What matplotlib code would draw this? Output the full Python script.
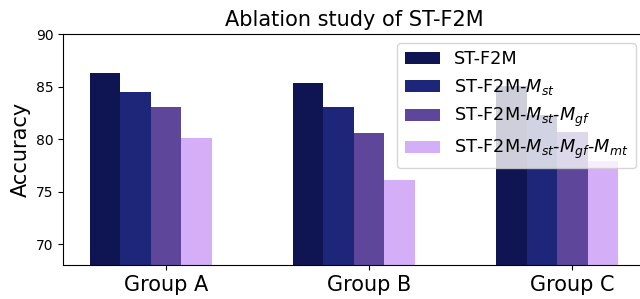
import matplotlib
matplotlib.use("Agg")
import matplotlib.pyplot as plt
import numpy as np

groups = ["Group A", "Group B", "Group C"]
series_names = ["ST-F2M", "ST-F2M-$M_{st}$", "ST-F2M-$M_{st}$-$M_{gf}$", "ST-F2M-$M_{st}$-$M_{gf}$-$M_{mt}$"]
st_f2m = [86.3, 85.3, 85.1]
st_f2m_mst = [84.5, 83.1, 82.3]
st_f2m_mst_mgf = [83.1, 80.6, 80.7]
st_f2m_mst_mgf_mmt = [80.1, 76.1, 77.9]
colors = ["#0f1452", "#1d2679", "#5e479b", "#d4aff8"]

series = [st_f2m, st_f2m_mst, st_f2m_mst_mgf, st_f2m_mst_mgf_mmt]

fig = plt.figure(figsize=(6.4, 2.99), dpi=100)
ax = fig.add_axes([0.099, 0.1137, 0.908, 0.772])
x = np.arange(len(groups))
w = 0.15
for i, (vals, name, c) in enumerate(zip(series, series_names, colors)):
    ax.bar(x + (i - 2) * w, vals, w, color=c, label=name)

ax.set_ylim(68, 90)
ax.set_xticks(x)
ax.set_xticklabels(groups, fontsize=15)
ax.tick_params(axis='y', labelsize=10)
ax.set_ylabel("Accuracy", fontsize=15)
ax.set_title("Ablation study of ST-F2M", fontsize=15)
ax.legend(loc="upper right", fontsize=12.75)
fig.savefig("out.png", dpi=100)
